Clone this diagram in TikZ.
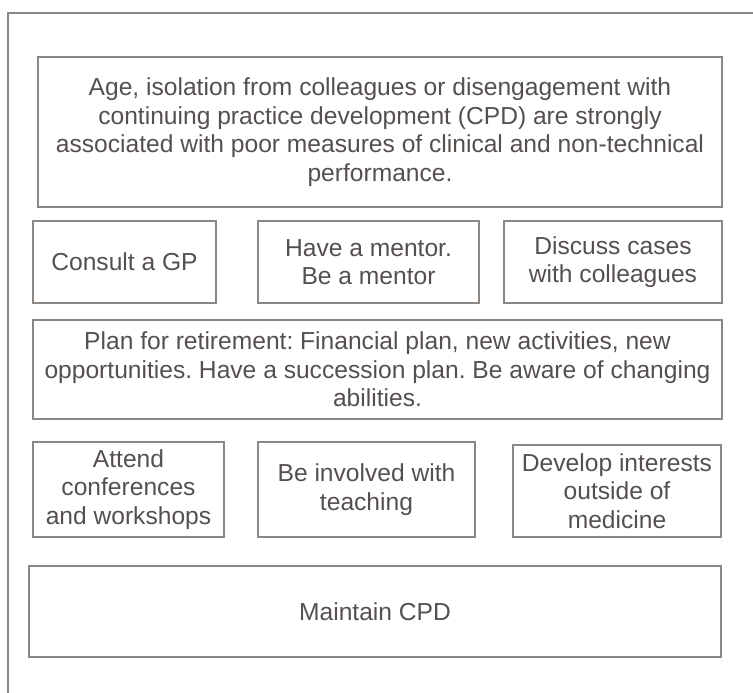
\documentclass[tikz,border=0pt]{standalone}
\usepackage{fontspec}
\setmainfont{Liberation Sans}
\usepackage{tikz}
\usetikzlibrary{positioning}
\definecolor{framegray}{HTML}{8C8783}
\definecolor{textgray}{HTML}{55504D}
\frenchspacing

\begin{document}
\begin{tikzpicture}
			[x=1pt,y=-1pt,
			every box/.style={draw=framegray,line width=1.6pt,align=center,inner sep=0pt,
				text=textgray,font=\fontsize{24.6pt}{28.5pt}\selectfont},
			box/.style={every box,minimum width=#1}]
			\useasboundingbox (0,0) rectangle (753,693);
			\draw [framegray,line width=1.6pt] (753,13) -- (8,13) -- (8,693);
			\node [box=684pt,minimum height=150pt] (risk) at (380,132)
			{Age, isolation from colleagues or disengagement with\\
			continuing practice development (CPD) are strongly\\
			associated with poor measures of clinical and non-technical\\
			performance.};
			\node [box=183pt,minimum height=82pt] (gp) at (124.5,262) {Consult a GP};
			\node [box=221pt,minimum height=82pt] (mentor) at (368.5,262) {Have a mentor.\\ Be a mentor};
			\node [box=218pt,minimum height=82pt] (cases) at (613,262) {Discuss cases\\ with colleagues};
			\node [box=689pt,minimum height=99pt] (retire) at (377.5,369.5)
			{Plan for retirement: Financial plan, new activities, new\\
			opportunities. Have a succession plan. Be aware of changing\\
			abilities.};
			\node [box=191pt,minimum height=95pt] (confs) at (128.5,489.5) {Attend\\ conferences\\ and workshops};
			\node [box=217pt,minimum height=95pt] (teach) at (366.5,489.5) {Be involved with\\ teaching};
			\node [box=208pt,minimum height=92pt] (hobby) at (617,491) {Develop interests\\ outside of\\ medicine};
			\node [box=692pt,minimum height=91pt] (cpd) at (375,611.5) {Maintain CPD};
		\end{tikzpicture}
\end{document}
